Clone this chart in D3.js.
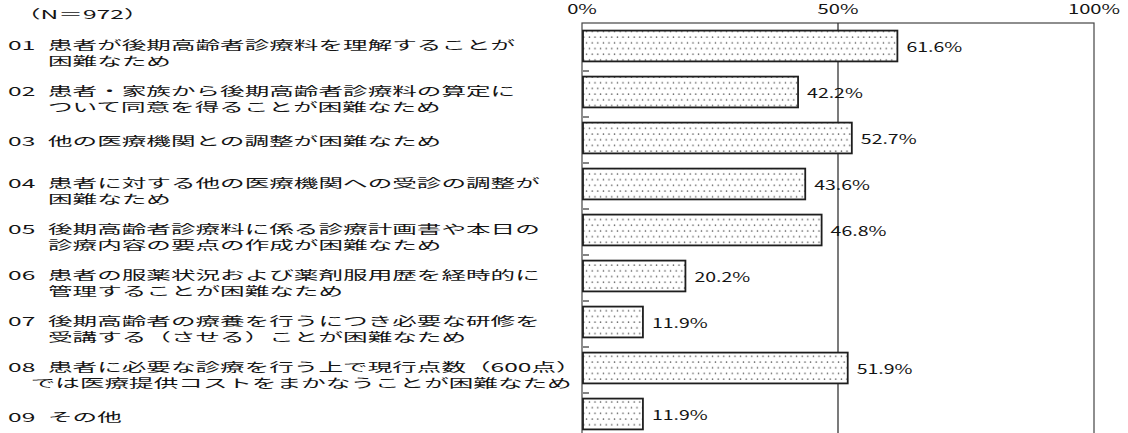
<!DOCTYPE html>
<html>
<head>
<meta charset="utf-8">
<script src="https://cdn.jsdelivr.net/npm/d3@7"></script>
<style>
  body { margin: 0; background: #fff; }
  svg { display: block; }
  text { font-family: "Noto Sans CJK JP", "Noto Sans", sans-serif; fill: #141414; }
</style>
</head>
<body>
<div id="chart"></div>
<script>
// data
const codes = ["01", "02", "03", "04", "05", "06", "07", "08", "09"];
const firstLines = [
  "患者が後期高齢者診療料を理解することが",
  "患者・家族から後期高齢者診療料の算定に",
  "他の医療機関との調整が困難なため",
  "患者に対する他の医療機関への受診の調整が",
  "後期高齢者診療料に係る診療計画書や本日の",
  "患者の服薬状況および薬剤服用歴を経時的に",
  "後期高齢者の療養を行うにつき必要な研修を",
  "患者に必要な診療を行う上で現行点数（600点）",
  "その他"
];
const secondLines = [
  "困難なため",
  "ついて同意を得ることが困難なため",
  "",
  "困難なため",
  "診療内容の要点の作成が困難なため",
  "管理することが困難なため",
  "受講する（させる）ことが困難なため",
  "では医療提供コストをまかなうことが困難なため",
  ""
];
const values = [61.6, 42.2, 52.7, 43.6, 46.8, 20.2, 11.9, 51.9, 11.9];
const tickValues = [0, 50, 100];
const nLabel = "（N＝972）";

let width = 1128, height = 433;
let sx = 2.05;   // the scan is stretched sideways
let fs = 12;

let svg = d3.select("#chart").append("svg")
  .attr("width", width)
  .attr("height", height);

// dotted fill of the bars
let defs = svg.append("defs");
let pat = defs.append("pattern")
  .attr("id", "dots")
  .attr("patternUnits", "userSpaceOnUse")
  .attr("width", 5.6)
  .attr("height", 11.4);
pat.append("rect").attr("width", 5.6).attr("height", 11.4).attr("fill", "#fff");
pat.append("circle").attr("cx", 1.4).attr("cy", 3).attr("r", 0.75).attr("fill", "#555");
pat.append("circle").attr("cx", 4.2).attr("cy", 8.7).attr("r", 0.75).attr("fill", "#555");

let x = d3.scaleLinear()
  .domain([0, 100])
  .range([582, 1094]);

let y = d3.scaleBand()
  .domain(codes)
  .range([23, 437])
  .paddingInner(0.33)
  .paddingOuter(0.165);

// frame + 50% line
svg.append("rect")
  .attr("x", x(0))
  .attr("y", 23)
  .attr("width", x(100) - x(0))
  .attr("height", 440)
  .attr("fill", "none")
  .attr("stroke", "#444")
  .attr("stroke-width", 1.2);

svg.append("line")
  .attr("x1", x(50)).attr("x2", x(50))
  .attr("y1", 23).attr("y2", height + 5)
  .attr("stroke", "#333")
  .attr("stroke-width", 1.3);

// axis labels on top
svg.append("g")
  .selectAll("text")
  .data(tickValues)
  .enter().append("text")
  .attr("text-anchor", "middle")
  .attr("font-size", 13)
  .attr("transform", function (d) { return "translate(" + x(d) + ",14) scale(1.55,1)"; })
  .text(function (d) { return d + "%"; });

// little category ticks on the left edge
svg.append("g")
  .selectAll("line")
  .data(codes.slice(1))
  .enter().append("line")
  .attr("x1", x(0) + 1)
  .attr("x2", x(0) + 7)
  .attr("y1", function (d) { return y(d) - y.step() * y.paddingInner() / 2 + 2; })
  .attr("y2", function (d) { return y(d) - y.step() * y.paddingInner() / 2 + 2; })
  .attr("stroke", "#333")
  .attr("stroke-width", 1.2);

// bars
svg.append("g")
  .selectAll("rect")
  .data(values)
  .enter().append("rect")
  .attr("x", x(0) + 1)
  .attr("y", function (d, i) { return y(codes[i]); })
  .attr("width", function (d) { return x(d) - x(0) - 1; })
  .attr("height", y.bandwidth())
  .attr("fill", "url(#dots)")
  .attr("stroke", "#1e1e1e")
  .attr("stroke-width", 1.8);

// value labels
svg.append("g")
  .selectAll("text")
  .data(values)
  .enter().append("text")
  .attr("font-size", 13)
  .attr("dominant-baseline", "central")
  .attr("transform", function (d, i) {
    return "translate(" + (x(d) + 9) + "," + (y(codes[i]) + y.bandwidth() / 2 + 1) + ") scale(1.5,1)";
  })
  .text(function (d) { return d.toFixed(1) + "%"; });

// N label
svg.append("text")
  .attr("font-size", fs)
  .attr("transform", "translate(16,19) scale(" + sx + ",1)")
  .text(nLabel);

// category labels
let labels = svg.append("g");
codes.forEach(function (c, i) {
  let cy = y(c) + y.bandwidth() / 2;
  let two = secondLines[i] !== "";
  let y1 = two ? cy - 1 : cy + 3;
  labels.append("text")
    .attr("font-size", fs)
    .attr("dominant-baseline", "central")
    .attr("transform", "translate(8," + y1 + ") scale(" + sx + ",1)")
    .text(c);
  labels.append("text")
    .attr("font-size", fs)
    .attr("dominant-baseline", "central")
    .attr("transform", "translate(48," + y1 + ") scale(" + sx + ",1)")
    .text(firstLines[i]);
  if (two) {
    let t = labels.append("text")
      .attr("font-size", fs)
      .attr("dominant-baseline", "central")
      .text(secondLines[i]);
    let w = t.node().getComputedTextLength() * sx;
    let lx = 48;
    if (lx + w > 572) lx = 572 - w;
    t.attr("transform", "translate(" + lx + "," + (cy + 15) + ") scale(" + sx + ",1)");
  }
});
</script>
</body>
</html>
